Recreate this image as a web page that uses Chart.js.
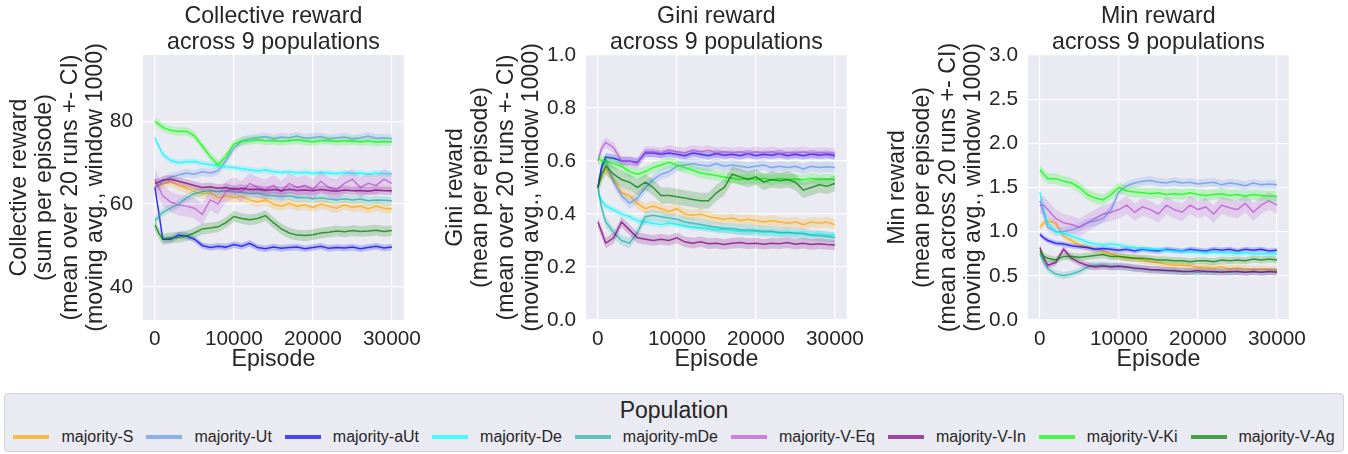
<!DOCTYPE html>
<html>
<head>
<meta charset="utf-8">
<script src="https://cdn.jsdelivr.net/npm/chart.js@4.4.0/dist/chart.umd.min.js"></script>
<style>
  body { margin: 0; background: #fff; width: 1348px; height: 454px; position: relative; overflow: hidden;
         font-family: "Liberation Sans", Arial, sans-serif; }
  .panel { position: absolute; top: 0; }
  #legend { position: absolute; left: 4px; top: 393px; width: 1338px; height: 57px; background: #eaeaf2;
            border: 1px solid #d3d3da; border-radius: 4px; }
  #legend .title { position: absolute; left: 0; right: 0; top: 3px; text-align: center; font-size: 23px;
                   line-height: 26px; color: #262626; }
  #legend .items { position: absolute; left: 0; right: 0; top: 34px; display: flex; justify-content: center; gap: 13px; }
  #legend .item { display: flex; align-items: center; font-size: 16px; line-height: 18px; color: #262626; }
  #legend .swatch { width: 36px; height: 3.5px; margin-right: 12px; }
</style>
</head>
<body>
<canvas id="collectiveChart" class="panel" width="422" height="380" style="left:7px"></canvas>
<canvas id="giniChart" class="panel" width="429" height="380" style="left:443px"></canvas>
<canvas id="minChart" class="panel" width="429" height="380" style="left:885px"></canvas>
<div id="legend"><div class="title">Population</div><div class="items"></div></div>

<script>
// dados (média móvel, janela 1000)
const populations = ['majority-S', 'majority-Ut', 'majority-aUt', 'majority-De', 'majority-mDe',
                     'majority-V-Eq', 'majority-V-In', 'majority-V-Ki', 'majority-V-Ag'];
const popColors = [[255, 165, 0], [100, 149, 237], [0, 0, 255], [0, 255, 255], [32, 178, 170],
                   [186, 85, 211], [128, 0, 128], [0, 255, 0], [0, 128, 0]];

const episodes = [0, 500, 1000, 2000, 3000, 4000, 5000, 6000, 7000, 8000, 9000, 10000, 11000, 12000, 13000,
                  14000, 15000, 16000, 17000, 18000, 19000, 20000, 21000, 22000, 23000, 24000, 25000, 26000,
                  27000, 28000, 29000, 30000];
const xTicks = [0, 10000, 20000, 30000];

// Collective reward
const colS = [64, 64.5, 64.8, 65.5, 64.5, 63.8, 63, 62.5, 62.8, 61.5, 62, 61.5, 61.8, 61, 60.5, 61, 60, 59.5, 60.2, 59.5, 59.8, 59.2, 60, 59.5, 59, 59.8, 59.2, 59.5, 58.8, 59.5, 59, 58.8];
const colUt = [64, 64.5, 65.5, 66.5, 67, 67.5, 67.2, 67.8, 67.5, 68, 70.5, 73.5, 75.2, 75.8, 76, 76.3, 75.8, 76.2, 76, 76.4, 75.9, 76.1, 76.3, 75.8, 76, 76.2, 75.7, 76, 76.4, 75.9, 76, 75.8];
const colAUt = [64, 58, 51.5, 51.5, 52.5, 52.3, 51.5, 50, 49.5, 49.8, 49.6, 50.2, 49.8, 50.5, 49.5, 49.2, 49.6, 49.3, 49.5, 49.6, 49.2, 49.5, 49.8, 49.3, 49.5, 49.4, 49.6, 49.2, 49.5, 49.8, 49.4, 49.6];
const colDe = [76, 74, 72, 70.5, 70, 70.2, 70.3, 69.8, 69.5, 69.3, 69, 68.8, 68.5, 68.3, 68, 68.2, 67.8, 67.6, 67.8, 67.5, 67.7, 67.4, 67.6, 67.5, 67.3, 67.6, 67.4, 67.5, 67.2, 67.5, 67.3, 67.3];
const colMDe = [56, 57, 58, 59, 60, 61.5, 62.5, 63, 63.2, 63, 63.2, 63, 62.8, 62.5, 62.6, 62.2, 62, 61.8, 62, 61.5, 61.6, 61.3, 61.5, 61.2, 61, 61.3, 61, 61.2, 60.8, 61, 60.9, 60.8];
const colVEq = [66, 64, 62, 60.5, 59.8, 59.5, 59, 57.5, 61, 60, 63, 64, 63, 65, 64, 63.5, 64.5, 63, 65, 64, 64.5, 63.5, 65.5, 64, 63.5, 65, 66, 64, 65, 64.5, 66, 65];
const colVIn = [65, 65.3, 65.8, 66, 65.5, 65, 64.5, 64, 64.2, 63.8, 64, 63.5, 63.8, 63.5, 63.6, 63.3, 63.5, 63.2, 63.6, 63.3, 63.4, 63.2, 63.5, 63.3, 63.1, 63.4, 63.2, 63.3, 63.1, 63.4, 63.2, 63.2];
const colVKi = [80, 79.3, 78.5, 77.8, 77.5, 77.6, 76.5, 74, 71.5, 69.5, 71.5, 74.5, 75.2, 75.3, 75.6, 75.2, 75.4, 75.1, 75.3, 75.5, 75.2, 75, 75.3, 75.4, 75.1, 75.2, 75.3, 75, 75.2, 74.9, 75.1, 75];
const colVAg = [55, 53, 51.5, 51.8, 52, 52.3, 53, 54, 54.2, 54.5, 55.5, 57, 56.5, 56.2, 56.5, 57.2, 55.5, 54, 53, 52.5, 52.4, 52.6, 53, 53.2, 53.5, 53.3, 53.6, 53.4, 53.5, 53.7, 53.4, 53.6];
const colCI = [1.2, 1.0, 0.8, 0.7, 1.0, 2.5, 1.0, 1.0, 1.3];
const colTicks = [40, 60, 80];

// Gini reward
const giniS = [0.5, 0.55, 0.57, 0.53, 0.48, 0.47, 0.44, 0.42, 0.43, 0.42, 0.41, 0.42, 0.4, 0.395, 0.4, 0.39, 0.385, 0.38, 0.385, 0.375, 0.38, 0.375, 0.37, 0.375, 0.37, 0.365, 0.37, 0.36, 0.37, 0.365, 0.37, 0.36];
const giniUt = [0.5, 0.58, 0.6, 0.52, 0.47, 0.44, 0.46, 0.5, 0.53, 0.55, 0.56, 0.58, 0.585, 0.59, 0.585, 0.58, 0.59, 0.58, 0.585, 0.58, 0.575, 0.58, 0.585, 0.575, 0.58, 0.575, 0.58, 0.57, 0.58, 0.575, 0.578, 0.575];
const giniAUt = [0.5, 0.58, 0.615, 0.61, 0.6, 0.6, 0.595, 0.63, 0.63, 0.625, 0.63, 0.625, 0.62, 0.63, 0.625, 0.62, 0.628, 0.622, 0.625, 0.62, 0.628, 0.62, 0.625, 0.622, 0.628, 0.62, 0.625, 0.62, 0.626, 0.622, 0.625, 0.62];
const giniDe = [0.48, 0.45, 0.43, 0.415, 0.4, 0.39, 0.375, 0.37, 0.365, 0.36, 0.365, 0.36, 0.355, 0.35, 0.348, 0.345, 0.34, 0.342, 0.338, 0.335, 0.333, 0.335, 0.33, 0.332, 0.328, 0.33, 0.325, 0.328, 0.322, 0.325, 0.32, 0.32];
const giniMDe = [0.5, 0.42, 0.37, 0.33, 0.3, 0.29, 0.33, 0.39, 0.395, 0.39, 0.385, 0.38, 0.37, 0.365, 0.36, 0.355, 0.35, 0.345, 0.345, 0.34, 0.34, 0.338, 0.335, 0.335, 0.33, 0.33, 0.328, 0.325, 0.32, 0.318, 0.315, 0.31];
const giniVEq = [0.6, 0.65, 0.67, 0.65, 0.6, 0.6, 0.59, 0.635, 0.635, 0.63, 0.64, 0.635, 0.63, 0.64, 0.635, 0.64, 0.63, 0.635, 0.63, 0.635, 0.628, 0.635, 0.63, 0.635, 0.628, 0.632, 0.63, 0.635, 0.628, 0.632, 0.63, 0.628];
const giniVIn = [0.37, 0.33, 0.29, 0.31, 0.37, 0.34, 0.31, 0.305, 0.3, 0.305, 0.3, 0.31, 0.295, 0.29, 0.295, 0.288, 0.29, 0.285, 0.29, 0.292, 0.288, 0.29, 0.286, 0.29, 0.288, 0.292, 0.286, 0.29, 0.285, 0.288, 0.285, 0.283];
const giniVKi = [0.61, 0.6, 0.6, 0.59, 0.58, 0.56, 0.55, 0.56, 0.575, 0.585, 0.595, 0.585, 0.575, 0.565, 0.555, 0.55, 0.545, 0.54, 0.535, 0.53, 0.535, 0.53, 0.535, 0.528, 0.535, 0.53, 0.532, 0.528, 0.535, 0.53, 0.532, 0.53];
const giniVAg = [0.5, 0.55, 0.58, 0.55, 0.53, 0.52, 0.5, 0.52, 0.5, 0.47, 0.47, 0.465, 0.46, 0.455, 0.45, 0.45, 0.48, 0.5, 0.55, 0.54, 0.53, 0.54, 0.52, 0.53, 0.525, 0.53, 0.52, 0.49, 0.5, 0.51, 0.505, 0.515];
const giniCI = [0.02, 0.02, 0.015, 0.012, 0.02, 0.02, 0.02, 0.02, 0.03];
const giniTicks = [0, 0.2, 0.4, 0.6, 0.8, 1.0];

// Min reward
const minS = [1.05, 1.1, 1.12, 1.1, 0.95, 0.9, 0.85, 0.82, 0.8, 0.78, 0.75, 0.72, 0.7, 0.7, 0.68, 0.66, 0.65, 0.63, 0.62, 0.62, 0.61, 0.6, 0.6, 0.59, 0.6, 0.58, 0.59, 0.58, 0.57, 0.58, 0.57, 0.57];
const minUt = [1.35, 1.2, 1.05, 1.0, 1.0, 1.02, 1.05, 1.1, 1.12, 1.15, 1.25, 1.45, 1.52, 1.55, 1.57, 1.58, 1.56, 1.55, 1.57, 1.55, 1.56, 1.54, 1.55, 1.56, 1.53, 1.55, 1.54, 1.52, 1.55, 1.53, 1.54, 1.53];
const minAUt = [0.97, 0.93, 0.9, 0.87, 0.86, 0.84, 0.83, 0.82, 0.8, 0.81, 0.8, 0.79, 0.8, 0.78, 0.8, 0.79, 0.78, 0.8, 0.79, 0.78, 0.8, 0.79, 0.78, 0.8, 0.79, 0.8, 0.78, 0.8, 0.79, 0.8, 0.78, 0.79];
const minDe = [1.45, 1.25, 1.1, 1.0, 0.98, 0.95, 0.92, 0.88, 0.86, 0.85, 0.86, 0.85, 0.83, 0.82, 0.81, 0.8, 0.8, 0.79, 0.78, 0.78, 0.77, 0.77, 0.76, 0.77, 0.76, 0.76, 0.75, 0.76, 0.75, 0.75, 0.75, 0.75];
const minMDe = [0.75, 0.65, 0.58, 0.52, 0.5, 0.52, 0.55, 0.6, 0.62, 0.62, 0.61, 0.6, 0.6, 0.58, 0.58, 0.57, 0.56, 0.56, 0.55, 0.55, 0.55, 0.54, 0.55, 0.54, 0.55, 0.54, 0.55, 0.54, 0.55, 0.54, 0.55, 0.55];
const minVEq = [1.3, 1.3, 1.25, 1.15, 1.1, 1.08, 1.05, 1.1, 1.15, 1.2, 1.22, 1.25, 1.3, 1.22, 1.28, 1.25, 1.2, 1.3, 1.25, 1.22, 1.3, 1.25, 1.28, 1.2, 1.3, 1.27, 1.25, 1.32, 1.22, 1.3, 1.35, 1.3];
const minVIn = [0.82, 0.7, 0.62, 0.65, 0.8, 0.7, 0.65, 0.62, 0.6, 0.61, 0.6, 0.61, 0.6, 0.59, 0.58, 0.57, 0.57, 0.56, 0.56, 0.55, 0.55, 0.56, 0.55, 0.55, 0.54, 0.55, 0.55, 0.54, 0.55, 0.54, 0.55, 0.54];
const minVKi = [1.7, 1.65, 1.6, 1.6, 1.57, 1.55, 1.5, 1.42, 1.38, 1.36, 1.42, 1.5, 1.46, 1.45, 1.44, 1.43, 1.44, 1.42, 1.43, 1.42, 1.44, 1.42, 1.41, 1.42, 1.43, 1.41, 1.42, 1.4, 1.42, 1.41, 1.4, 1.4];
const minVAg = [0.78, 0.72, 0.7, 0.68, 0.72, 0.72, 0.71, 0.72, 0.73, 0.74, 0.72, 0.72, 0.71, 0.7, 0.7, 0.69, 0.68, 0.68, 0.67, 0.67, 0.66, 0.67, 0.67, 0.66, 0.68, 0.67, 0.68, 0.67, 0.69, 0.68, 0.69, 0.68];
const minCI = [0.04, 0.05, 0.03, 0.03, 0.04, 0.1, 0.04, 0.06, 0.04];
const minTicks = [0, 0.5, 1.0, 1.5, 2.0, 2.5, 3.0];

const FONT = '"Liberation Sans", Arial, sans-serif';
const TEXT_COLOR = '#262626';
const LABEL_SIZE = 23.2;
const TICK_SIZE = 20.8;

function rgba(c, a) {
    return `rgba(${c[0]}, ${c[1]}, ${c[2]}, ${a})`;
}

// fundo cinza do seaborn só na área do gráfico
const plotBackground = {
    id: 'plotBackground',
    beforeDraw(chart) {
        const { ctx, chartArea } = chart;
        ctx.save();
        ctx.fillStyle = '#eaeaf2';
        ctx.fillRect(chartArea.left, chartArea.top, chartArea.width, chartArea.height);
        ctx.restore();
    }
};

function buildDatasets(series, ci) {
    const datasets = [];
    series.forEach(function(values, i) {
        const color = popColors[i];
        const base = 100 - i * 3;
        datasets.push({
            label: populations[i] + ' low',
            data: episodes.map((x, k) => ({ x: x, y: values[k] - ci[i] })),
            borderWidth: 0, pointRadius: 0, fill: false, order: base
        });
        datasets.push({
            label: populations[i] + ' high',
            data: episodes.map((x, k) => ({ x: x, y: values[k] + ci[i] })),
            borderWidth: 0, pointRadius: 0, fill: '-1', backgroundColor: rgba(color, 0.2), order: base
        });
        datasets.push({
            label: populations[i],
            data: episodes.map((x, k) => ({ x: x, y: values[k] })),
            borderColor: rgba(color, 0.75), borderWidth: 1.5, pointRadius: 0, fill: false,
            tension: 0, order: base - 1
        });
    });
    return datasets;
}

function makePanel(canvasId, opts) {
    const ctx = document.getElementById(canvasId).getContext('2d');
    return new Chart(ctx, {
        type: 'line',
        data: { datasets: buildDatasets(opts.series, opts.ci) },
        options: {
            responsive: false,
            animation: false,
            devicePixelRatio: 1,
            layout: { padding: { left: 0, right: 20, top: 0, bottom: 0 } },
            plugins: {
                legend: { display: false },
                tooltip: { enabled: false },
                title: {
                    display: true,
                    text: opts.title,
                    fullSize: false,
                    color: TEXT_COLOR,
                    font: { family: FONT, size: LABEL_SIZE, weight: 'normal', lineHeight: 1.09 },
                    padding: { top: 4.4, bottom: 0 }
                }
            },
            scales: {
                x: {
                    type: 'linear',
                    min: -1500,
                    max: 31500,
                    afterBuildTicks: scale => { scale.ticks = xTicks.map(v => ({ value: v })); },
                    afterFit: scale => { scale.height = 60; },
                    grid: { color: '#ffffff', lineWidth: 1.2, drawTicks: false },
                    border: { display: false },
                    ticks: { color: TEXT_COLOR, padding: 7, maxRotation: 0,
                             font: { family: FONT, size: TICK_SIZE }, callback: v => String(v) },
                    title: { display: true, text: 'Episode', color: TEXT_COLOR,
                             font: { family: FONT, size: LABEL_SIZE, lineHeight: 1.09 }, padding: { top: 0, bottom: 7.5 } }
                },
                y: {
                    min: opts.yMin,
                    max: opts.yMax,
                    afterBuildTicks: scale => { scale.ticks = opts.yTicks.map(v => ({ value: v })); },
                    afterFit: scale => { scale.width = opts.yWidth; },
                    grid: { color: '#ffffff', lineWidth: 1.2, drawTicks: false },
                    border: { display: false },
                    ticks: { color: TEXT_COLOR, padding: 10, font: { family: FONT, size: TICK_SIZE },
                             callback: v => opts.decimals ? Number(v).toFixed(opts.decimals) : String(v) },
                    title: { display: true, text: opts.yTitle, color: TEXT_COLOR,
                             font: { family: FONT, size: LABEL_SIZE, lineHeight: 1.09 }, padding: { top: 0, bottom: 0 } }
                }
            }
        },
        plugins: [plotBackground]
    });
}

makePanel('collectiveChart', {
    series: [colS, colUt, colAUt, colDe, colMDe, colVEq, colVIn, colVKi, colVAg],
    ci: colCI,
    title: ['Collective reward', 'across 9 populations'],
    yTitle: ['Collective reward', '(sum per episode)', '(mean over 20 runs +- CI)', '(moving avg., window 1000)'],
    yMin: 32, yMax: 96, yTicks: colTicks, yWidth: 136, decimals: 0
});

makePanel('giniChart', {
    series: [giniS, giniUt, giniAUt, giniDe, giniMDe, giniVEq, giniVIn, giniVKi, giniVAg],
    ci: giniCI,
    title: ['Gini reward', 'across 9 populations'],
    yTitle: ['Gini reward', '(mean per episode)', '(mean over 20 runs +- CI)', '(moving avg., window 1000)'],
    yMin: 0, yMax: 1, yTicks: giniTicks, yWidth: 143, decimals: 1
});

makePanel('minChart', {
    series: [minS, minUt, minAUt, minDe, minMDe, minVEq, minVIn, minVKi, minVAg],
    ci: minCI,
    title: ['Min reward', 'across 9 populations'],
    yTitle: ['Min reward', '(mean per episode)', '(mean across 20 runs +- CI)', '(moving avg., window 1000)'],
    yMin: 0, yMax: 3, yTicks: minTicks, yWidth: 143, decimals: 1
});

// legenda em HTML, montada a partir das mesmas listas
const legendItems = document.querySelector('#legend .items');
populations.forEach(function(name, i) {
    const item = document.createElement('div');
    item.className = 'item';
    const swatch = document.createElement('span');
    swatch.className = 'swatch';
    swatch.style.background = rgba(popColors[i], 0.7);
    item.appendChild(swatch);
    item.appendChild(document.createTextNode(name));
    legendItems.appendChild(item);
});
</script>
</body>
</html>
